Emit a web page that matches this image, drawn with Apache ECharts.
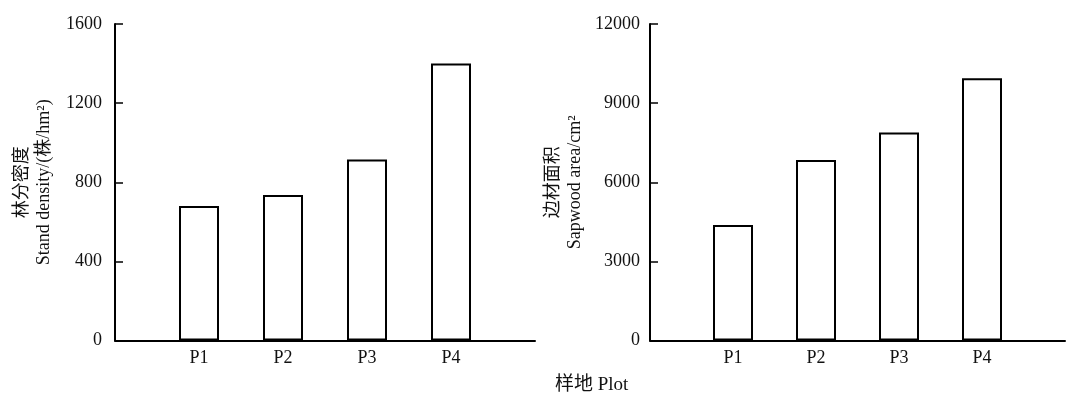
<!DOCTYPE html>
<html>
<head>
<meta charset="utf-8">
<script src="https://cdn.jsdelivr.net/npm/echarts@6/dist/echarts.min.js"></script>
<style>
html,body{margin:0;padding:0;background:#fff;}
#chart{width:1068px;height:400px;}
</style>
</head>
<body>
<div id="chart"></div>
<script>
const categories = ['P1', 'P2', 'P3', 'P4'];
const standDensity = [680, 735, 915, 1400];
const sapwoodArea = [4380, 6840, 7890, 9940];
const leftTicks = { min: 0, max: 1600, interval: 400 };
const rightTicks = { min: 0, max: 12000, interval: 3000 };
const leftName = '林分密度\nStand density/(株/hm²)';
const rightName = '边材面积\nSapwood area/cm²';
const xTitle = '样地 Plot';

const FONT = '"Liberation Serif", "Noto Sans CJK SC", serif';
const xCats = [''].concat(categories, ['']);
const pad = arr => [null].concat(arr, [null]);

function xAxis(gi) {
  return {
    type: 'category', gridIndex: gi, data: xCats, boundaryGap: false,
    axisLine: { lineStyle: { color: '#000', width: 2 } },
    axisTick: { show: false },
    axisLabel: { color: '#111', fontFamily: FONT, fontSize: 18, margin: 9, interval: 0 },
    splitLine: { show: false }
  };
}
function yAxis(gi, t, name, gap, lm) {
  return {
    type: 'value', gridIndex: gi, min: t.min, max: t.max, interval: t.interval,
    name: name, nameLocation: 'middle', nameRotate: 90, nameGap: gap,
    nameTextStyle: { color: '#111', fontFamily: FONT, fontSize: 18, lineHeight: 22 },
    axisLine: { show: true, lineStyle: { color: '#000', width: 2 } },
    axisTick: { show: true, inside: true, length: 8, lineStyle: { color: '#000', width: 1.5 } },
    axisLabel: { color: '#111', fontFamily: FONT, fontSize: 18, margin: lm, formatter: v => String(v) },
    splitLine: { show: false }
  };
}
function bar(xi, vals) {
  return {
    type: 'bar', xAxisIndex: xi, yAxisIndex: xi, data: pad(vals), barWidth: 40,
    itemStyle: { color: '#fff', borderColor: '#000', borderWidth: 2 },
    emphasis: { disabled: true }, animation: false
  };
}

const chart = echarts.init(document.getElementById('chart'));
chart.setOption({
  backgroundColor: '#fff',
  animation: false,
  grid: [
    { left: 115, top: 24, width: 420, height: 316.5 },
    { left: 650, top: 24, width: 420, height: 316.5 }
  ],
  xAxis: [xAxis(0), xAxis(1)],
  yAxis: [yAxis(0, leftTicks, leftName, 60, 13), yAxis(1, rightTicks, rightName, 64, 10)],
  series: [bar(0, standDensity), bar(1, sapwoodArea)],
  graphic: [{
    type: 'text', left: 555, top: 376,
    style: { text: xTitle, fontFamily: FONT, fontSize: 19, fill: '#111' }
  }]
});
</script>
</body>
</html>
